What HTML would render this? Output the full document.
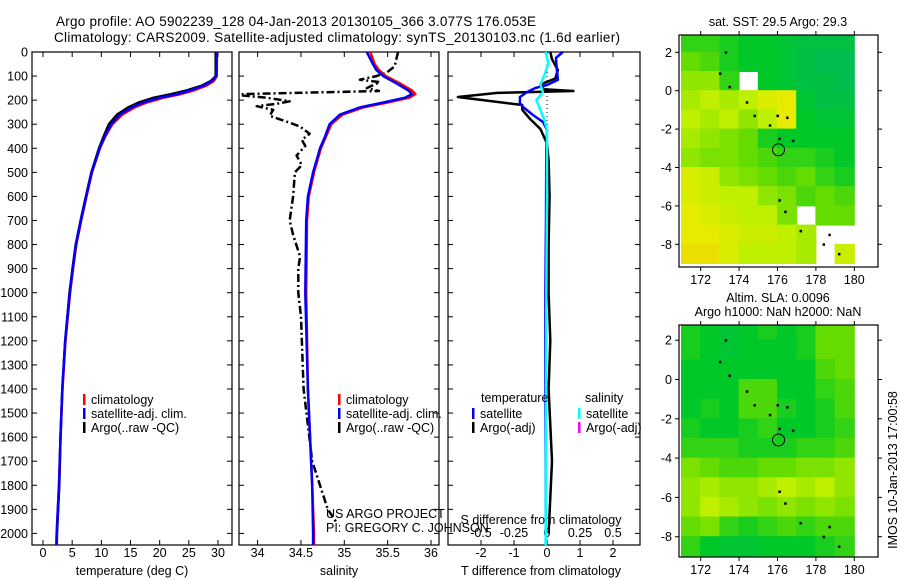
<!DOCTYPE html>
<html><head><meta charset="utf-8"><style>
html,body{margin:0;padding:0;background:#fff;}
svg{display:block;font-family:"Liberation Sans",sans-serif;}
</style></head><body>
<svg id="fig" width="900" height="580" viewBox="0 0 900 580" xmlns="http://www.w3.org/2000/svg">
<text x="56" y="26" font-size="13.5" textLength="480">Argo profile: AO 5902239_128 04-Jan-2013 20130105_366 3.077S 176.053E</text>
<text x="54" y="42" font-size="13.5" textLength="566">Climatology: CARS2009. Satellite-adjusted climatology: synTS_20130103.nc (1.6d earlier)</text>
<g id="g"></g>
</svg>
<script>
// ---------- data ----------
const depthTicks=[0,100,200,300,400,500,600,700,800,900,1000,1100,1200,1300,1400,1500,1600,1700,1800,1900,2000];
const tempTicks=[0,5,10,15,20,25,30];
const salTicks=[34,34.5,35,35.5,36];
const salTickLabels=["34","34.5","35","35.5","36"];
const tdiffTicks=[-2,-1,0,1,2];
const sdiffTicks=[-0.5,-0.25,0,0.25,0.5];
const sdiffTickLabels=["-0.5","-0.25","0","0.25","0.5"];

const tDepth=[0,100,120,140,160,175,190,210,230,260,300,350,400,500,600,700,800,900,1000,1200,1400,1600,1800,2000,2050];
const tSat  =[29.8,29.7,29.0,27.5,25.2,23.0,20.0,17.2,15.2,13.2,11.7,10.6,9.7,8.35,7.4,6.5,5.66,5.1,4.6,3.8,3.3,3.0,2.75,2.35,2.3];
const tClim =[29.8,29.8,29.3,28.0,25.8,23.6,20.7,17.8,15.7,13.6,11.9,10.7,9.75,8.4,7.45,6.55,5.7,5.15,4.65,3.85,3.35,3.0,2.75,2.35,2.3];
const tArgo =[29.6,29.6,28.8,27.2,24.6,22.0,19.0,16.4,14.6,12.7,11.3,10.4,9.6,8.3,7.35,6.45,5.6,5.05,4.55,3.8,3.3,3.0,2.8,2.4,2.35];

const sDepth=[0,50,75,100,130,160,175,190,210,230,260,300,350,400,500,600,700,1000,1400,1800,2000,2050];
const sSat  =[35.26,35.33,35.37,35.45,35.6,35.74,35.78,35.7,35.45,35.18,34.95,34.83,34.78,34.72,34.64,34.58,34.56,34.55,34.58,34.63,34.64,34.64];
const sClim =[35.3,35.35,35.4,35.48,35.64,35.78,35.82,35.75,35.5,35.22,34.98,34.85,34.79,34.73,34.65,34.59,34.57,34.56,34.58,34.63,34.65,34.65];
const saDepth=[0,30,60,85,100,115,125,150,162,175,180,190,205,215,225,240,265,290,310,340,365,390,430,470,500,600,700,760,850,900,1000,1100,1300,1400,1700,1800,1900,1960];
const sArgo  =[35.62,35.6,35.58,35.49,35.37,35.18,35.41,35.26,35.4,33.83,33.8,34.1,34.37,34.22,33.99,34.18,34.14,34.34,34.49,34.6,34.51,34.55,34.45,34.51,34.43,34.41,34.37,34.41,34.49,34.47,34.47,34.5,34.52,34.53,34.63,34.72,34.81,34.92];

const dDepth=[0,25,75,116,137,150,166,187,212,228,262,291,324,400,700,1000,1400,1700,2050];
const tDiffSat=[0.48,0.27,0.3,0.33,0,-0.36,-0.6,-0.82,-0.82,-0.73,-0.42,-0.12,0,-0.02,-0.03,-0.05,-0.05,-0.04,-0.04];
const daDepth=[0,30,75,110,135,155,162,170,187,220,240,280,320,380,450,600,800,1000,1200,1400,1700,2000];
const tDiffArgo=[0.1,0.15,0.33,0.25,-0.2,-0.1,0.8,-1.5,-2.7,-0.75,-0.75,-0.5,-0.2,0,0.05,0.08,0.05,0.05,0.1,0.05,0.15,0.05];
const dsDepth=[0,50,95,137,166,200,241,282,324,600,1000,2050];
const sDiffSat=[-0.01,0.01,-0.02,-0.05,-0.03,-0.08,-0.05,-0.02,0,0,-0.005,-0.01];

const mapLonTicks=[172,174,176,178,180];
const mapLatTicks=[2,0,-2,-4,-6,-8];
const sstGrid=[
[0.4,0.4,0.35,0.3,0.3,0.25,0.2,0.2,0.2],
[0.5,0.45,0.35,0.3,0.3,0.25,0.2,0.15,0.15],
[0.6,0.6,0.4,-1,0.3,0.25,0.2,0.2,0.15],
[0.65,0.7,0.65,0.7,0.8,0.85,0.25,0.2,0.2],
[0.7,0.65,0.7,0.6,0.7,0.85,0.3,0.25,0.25],
[0.65,0.6,0.55,0.5,0.35,0.3,0.3,0.3,0.3],
[0.6,0.55,0.55,0.5,0.45,0.4,0.4,0.35,0.3],
[0.8,0.75,0.6,0.55,0.5,0.45,0.5,0.4,0.35],
[0.8,0.75,0.7,0.7,0.6,0.55,0.45,0.5,0.45],
[0.85,0.8,0.75,0.7,0.7,0.55,-1,0.5,0.5],
[0.85,0.85,0.8,0.75,0.75,0.7,0.65,-1,-1],
[0.9,0.9,0.8,0.7,0.7,0.7,0.65,-1,0.75]];
const slaGrid=[
[0.35,0.3,0.25,0.3,0.35,0.3,0.35,0.5,0.5],
[0.35,0.3,0.25,0.3,0.3,0.3,0.35,0.5,0.5],
[0.3,0.3,0.3,0.3,0.3,0.3,0.3,0.45,0.5],
[0.3,0.3,0.3,0.45,0.45,0.3,0.3,0.4,0.45],
[0.3,0.35,0.3,0.45,0.45,0.35,0.3,0.35,0.45],
[0.35,0.3,0.3,0.35,0.4,0.3,0.3,0.35,0.4],
[0.4,0.4,0.4,0.35,0.35,0.35,0.4,0.4,0.45],
[0.55,0.5,0.45,0.45,0.5,0.5,0.55,0.55,0.6],
[0.6,0.65,0.6,0.6,0.65,0.7,0.65,0.7,0.6],
[0.6,0.7,0.65,0.6,0.55,0.6,0.55,0.6,0.55],
[0.5,0.55,0.4,0.35,0.4,0.45,0.4,0.45,0.45],
[0.4,0.3,0.25,0.25,0.3,0.3,0.3,0.35,0.4]];
const gridLon0=171, gridLat0=3;
const floatLon=176.053, floatLat=-3.077;
const islandLon=[173.3,173.0,173.5,174.4,174.8,175.6,176.0,176.5,176.1,176.8,176.1,176.4,177.2,178.4,178.7,179.2];
const islandLat=[2.0,0.9,0.2,-0.6,-1.3,-1.8,-1.3,-1.4,-2.5,-2.6,-5.7,-6.3,-7.3,-8.0,-7.5,-8.5];

// ---------- helpers ----------
const NS="http://www.w3.org/2000/svg";
const G=document.getElementById('g');
function mk(tag,attrs,parent){const e=document.createElementNS(NS,tag);for(const k in attrs)e.setAttribute(k,attrs[k]);(parent||G).appendChild(e);return e;}
function lin(d0,d1,r0,r1){return v=>r0+(v-d0)*(r1-r0)/(d1-d0);}
const yD=lin(0,2000,52,533.4);
const PB=545;

function frame(name,x0,x1,y0,y1){const r=mk('rect',{x:x0,y:y0,width:x1-x0,height:y1-y0,fill:'none',stroke:'#000','stroke-width':1.2});}
function txt(s,x,y,size,anchor,name){const t=mk('text',{x:x,y:y,'font-size':size,'text-anchor':anchor||'start'});t.textContent=s;return t;}
function line(xs,ys,color,w,name,dash){let d='';for(let i=0;i<xs.length;i++)d+=(i?'L':'M')+xs[i].toFixed(1)+','+ys[i].toFixed(1);const p=mk('path',{d:d,fill:'none',stroke:color,'stroke-width':w,'stroke-linejoin':'round'});if(dash)p.setAttribute('stroke-dasharray',dash);return p;}
function xticks(ticks,labels,sx,x0,x1,y0,y1,ly,name){ticks.forEach((v,i)=>{const x=sx(v);mk('line',{x1:x,x2:x,y1:y1,y2:y1-5,stroke:'#000'});mk('line',{x1:x,x2:x,y1:y0,y2:y0+5,stroke:'#000'});if(ly)txt(labels[i],x,ly,12.5,'middle',name+'-tick-label');});}
function depthTicksFn(x0,x1,labels){depthTicks.forEach(v=>{const y=yD(v);mk('line',{x1:x0,x2:x0+5,y1:y,y2:y,stroke:'#000'});mk('line',{x1:x1,x2:x1-5,y1:y,y2:y,stroke:'#000'});if(labels)txt(String(v),28,y+4.5,12.5,'end','depth-tick-label');});}
function legend(x,items,yStart,name){items.forEach((it,i)=>{const y=yStart+i*14;const r=mk('rect',{x:x,y:y-8,width:2.5,height:11,fill:it[1]});txt(it[0],x+8,y+2,12.5,'start',name+'-label');});}

// ---------- panel 1: temperature ----------
const xT=lin(0,30,43,218);
frame('temperature-panel',32,232,52,PB);
depthTicksFn(32,232,true);
xticks(tempTicks,tempTicks.map(String),xT,32,232,52,PB,557,'temperature');
txt('temperature (deg C)',132,575,12.5,'middle','temperature-axis-title');
line(tArgo.map(xT),tDepth.map(yD),'#000',2.5,'temperature-argo-line');
line(tClim.map(xT),tDepth.map(yD),'#f00',2.5,'temperature-climatology-line');
line(tSat.map(xT),tDepth.map(yD),'#00f',2.5,'temperature-satellite-line');
legend(83,[['climatology','#f00'],['satellite-adj. clim.','#00f'],['Argo(..raw -QC)','#000']],402,'temperature-legend');

// ---------- panel 2: salinity ----------
const xS=lin(34,36,257.6,431);
frame('salinity-panel',239,439,52,PB);
depthTicksFn(239,439,false);
xticks(salTicks,salTickLabels,xS,239,439,52,PB,557,'salinity');
txt('salinity',339,575,12.5,'middle','salinity-axis-title');
line(sArgo.map(xS),saDepth.map(yD),'#000',2.5,'salinity-argo-line','8,3,2,3');
line(sClim.map(xS),sDepth.map(yD),'#f00',2.5,'salinity-climatology-line');
line(sSat.map(xS),sDepth.map(yD),'#00f',2.5,'salinity-satellite-line');
legend(338,[['climatology','#f00'],['satellite-adj. clim.','#00f'],['Argo(..raw -QC)','#000']],402,'salinity-legend');
txt('US ARGO PROJECT',326,518,12.5,'start','credit-project');
txt('PI: GREGORY C. JOHNSON',326,532,12.5,'start','credit-pi');

// ---------- panel 3: differences ----------
const xTd=lin(0,2,547,613);
const xSd=lin(0,0.5,547,613);
frame('difference-panel',448,640,52,PB);
depthTicksFn(448,640,false);
xticks(tdiffTicks,tdiffTicks.map(String),xTd,448,640,52,PB,557,'t-difference');
sdiffTicks.forEach((v,i)=>txt(sdiffTickLabels[i],xSd(v),537,12.5,'middle','s-difference-tick-label'));
txt('S difference from climatology',541,524,12.5,'middle','s-difference-axis-title');
txt('T difference from climatology',541,575,12.5,'middle','t-difference-axis-title');
line([xTd(0),xTd(0)],[yD(0),yD(380)],'#000',1,'zero-reference-line','1,3');
line(tDiffArgo.map(xTd),daDepth.map(yD),'#000',2.5,'t-difference-argo-line');
line(tDiffSat.map(xTd),dDepth.map(yD),'#00f',2.5,'t-difference-satellite-line');
line(sDiffSat.map(xSd),dsDepth.map(yD),'#0ff',2.5,'s-difference-satellite-line');
txt('temperature',481,402,12.5,'start','legend-temperature-header');
txt('salinity',585,402,12.5,'start','legend-salinity-header');
legend(472,[['satellite','#00f'],['Argo(-adj)','#000']],416,'t-difference-legend');
legend(578,[['satellite','#0ff'],['Argo(-adj)','#f0f']],416,'s-difference-legend');

// ---------- maps ----------
function col(v){const stops=[[0,[0,180,120]],[0.3,[0,200,40]],[0.5,[100,220,0]],[0.7,[190,240,0]],[0.85,[230,235,0]],[1,[245,200,0]]];
 for(let i=1;i<stops.length;i++){if(v<=stops[i][0]){const a=stops[i-1],b=stops[i],t=(v-a[0])/(b[0]-a[0]);return 'rgb('+a[1].map((c,k)=>Math.round(c+(b[1][k]-c)*t)).join(',')+')';}}return 'rgb(245,200,0)';}
function map(name,grid,y0,y1,lat0y,pxPerDeg,titles){
 const x0=679,x1=878;
 const sx=lin(172,180,700.7,854.3);
 const sy=v=>lat0y-v*pxPerDeg;
 const grp=mk('g',{});
 const cp=mk('clipPath',{id:name+'-clip'},grp);mk('rect',{x:x0,y:y0,width:x1-x0,height:y1-y0},cp);
 const cells=mk('g',{'clip-path':'url(#'+name+'-clip)'},grp);
 grid.forEach((row,r)=>row.forEach((v,c)=>{if(v<0)return;const cx=sx(gridLon0+c),cy=sy(gridLat0-r);
   const e=mk('rect',{x:cx-0.5,y:cy-0.5,width:sx(gridLon0+c+1)-cx+1,height:sy(gridLat0-r-1)-cy+1,fill:col(v)},cells);
   }));
 islandLon.forEach((lo,i)=>{const e=mk('rect',{x:sx(lo)-1,y:sy(islandLat[i])-1,width:2.5,height:2.5,fill:'#000'},cells);});
 const c=mk('circle',{cx:sx(floatLon),cy:sy(floatLat),r:6,fill:'none',stroke:'#000','stroke-width':1},grp);
 frame(name+'-frame',x0,x1,y0,y1);
 mapLonTicks.forEach(v=>{const x=sx(v);mk('line',{x1:x,x2:x,y1:y0,y2:y0-4,stroke:'#000'});mk('line',{x1:x,x2:x,y1:y1,y2:y1+4,stroke:'#000'});txt(String(v),x,y1+17,12.5,'middle','longitude-tick-label');});
 mapLatTicks.forEach(v=>{const y=sy(v);mk('line',{x1:x0,x2:x0-4,y1:y,y2:y,stroke:'#000'});mk('line',{x1:x1,x2:x1+4,y1:y,y2:y,stroke:'#000'});txt(String(v),672,y+4.5,12.5,'end','latitude-tick-label');});
 titles.forEach(t=>txt(t[0],778,t[1],12.5,'middle',name+'-title'));
}
map('sst-map',sstGrid,35,267,90.7,19.2,[['sat. SST: 29.5 Argo: 29.3',26]]);
map('sla-map',slaGrid,325,557,379.5,19.65,[['Altim. SLA: 0.0096',302],['Argo h1000: NaN h2000: NaN',316]]);
const st=txt('IMOS 10-Jan-2013 17:00:58',0,0,12.5,'middle','timestamp-label');
st.setAttribute('transform','translate(897,470) rotate(-90)');
</script>
</body></html>
